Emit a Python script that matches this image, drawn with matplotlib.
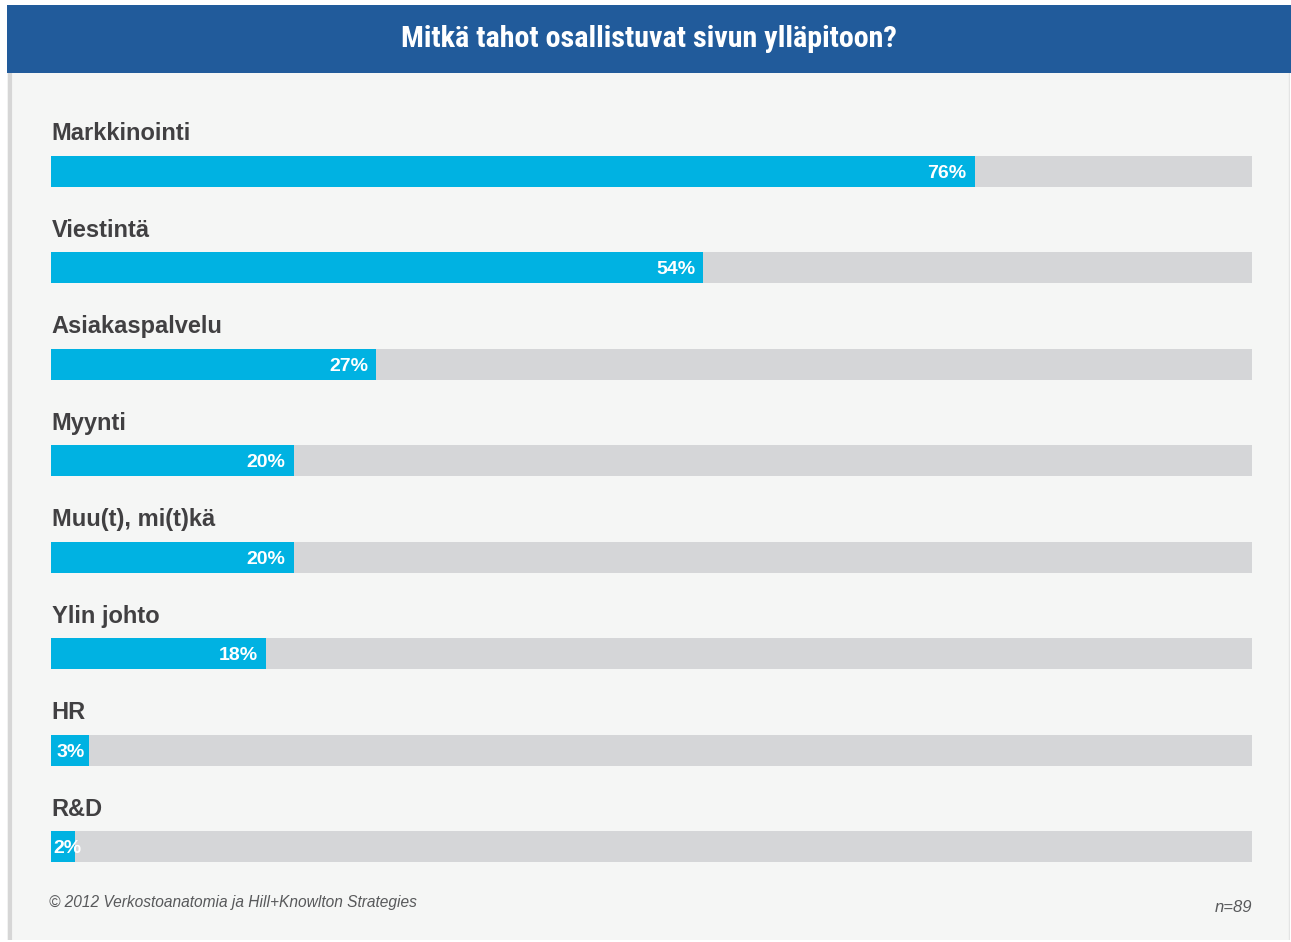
import matplotlib
matplotlib.use("Agg")
import matplotlib.pyplot as plt

title = "Mitkä tahot osallistuvat sivun ylläpitoon?"
categories = ["Markkinointi", "Viestintä", "Asiakaspalvelu", "Myynti",
              "Muu(t), mi(t)kä", "Ylin johto", "HR", "R&D"]
values = [76.9, 54.3, 27.1, 20.2, 20.2, 17.9, 3.2, 2.0]
value_labels = ["76%", "54%", "27%", "20%", "20%", "18%", "3%", "2%"]
full = 100
footer = "© 2012 Verkostoanatomia ja Hill+Knowlton Strategies"
note = "n=89"

W, H = 1291, 942
fig = plt.figure(figsize=(W / 100, H / 100), dpi=100)
fig.patch.set_facecolor("white")

def fx(px):
    return px / W

def fy(py):
    return 1 - py / H

# panel background
bg = fig.add_axes([fx(7), fy(940), fx(1290 - 7), (940 - 73) / H])
bg.set_facecolor("#f5f6f5")
bg.set_xticks([]); bg.set_yticks([])
for s in bg.spines.values():
    s.set_visible(False)
bg.axvline(0.002, color="#d6d6d6", lw=3)
bg.axvline(0.9995, color="#e3e4e4", lw=1)
bg.set_xlim(0, 1); bg.set_ylim(0, 1)

# title bar
tb = fig.add_axes([fx(7), fy(73), fx(1291 - 7), (73 - 5) / H])
tb.set_facecolor("#215b9b")
tb.set_xticks([]); tb.set_yticks([])
for s in tb.spines.values():
    s.set_visible(False)
tb.text(0.5, 0.50, title, transform=tb.transAxes, ha="center", va="center",
        color="white", fontsize=21.7, fontweight="bold",
        family=["Roboto Condensed", "Liberation Sans Narrow", "Liberation Sans"])

# bars axes
x0p, x1p = 51, 1252
ytop, ybot = 80, 930
ax = fig.add_axes([fx(x0p), fy(ybot), fx(x1p - x0p), (ybot - ytop) / H])
ax.patch.set_alpha(0)
for s in ax.spines.values():
    s.set_visible(False)
ax.set_xticks([]); ax.set_yticks([])
step = 96.43
c0 = 171.5
n = len(categories)
ax.set_xlim(0, full)
ax.set_ylim(n - 1 + (ybot - (c0 + (n - 1) * step)) / step, -(c0 - ytop) / step)
bh = 31 / step
ys = list(range(n))
ax.barh(ys, [full] * n, height=bh, color="#d5d6d8", left=0)
ax.barh(ys, values, height=bh, color="#00b2e2", left=0)
px_per_unit = (x1p - x0p) / full
for i, (cat, v, lab) in enumerate(zip(categories, values, value_labels)):
    ax.text(0.05, i - (c0 - 134) / step, cat, ha="left", va="center",
            fontsize=17, fontweight="bold", color="#414042",
            family=["Liberation Sans", "DejaVu Sans"])
    if v * px_per_unit > 50:
        ax.text(v - 8 / px_per_unit, i + 0.02, lab, ha="right", va="center",
                fontsize=14, fontweight="bold", color="white",
                family=["Liberation Sans", "DejaVu Sans"])
    else:
        xoff = 6 if v * px_per_unit > 30 else 2
        ax.text(xoff / px_per_unit, i + 0.02, lab, ha="left", va="center",
                fontsize=14, fontweight="bold", color="white",
                family=["Liberation Sans", "DejaVu Sans"])

fig.text(fx(49), fy(902), footer, ha="left", va="center", fontsize=11.2,
         style="italic", color="#58595b", family=["Liberation Sans", "DejaVu Sans"])
fig.text(fx(1252), fy(907), note, ha="right", va="center", fontsize=12,
         style="italic", color="#58595b", family=["Liberation Sans", "DejaVu Sans"])

fig.savefig("out.png", dpi=100, facecolor=fig.get_facecolor())
